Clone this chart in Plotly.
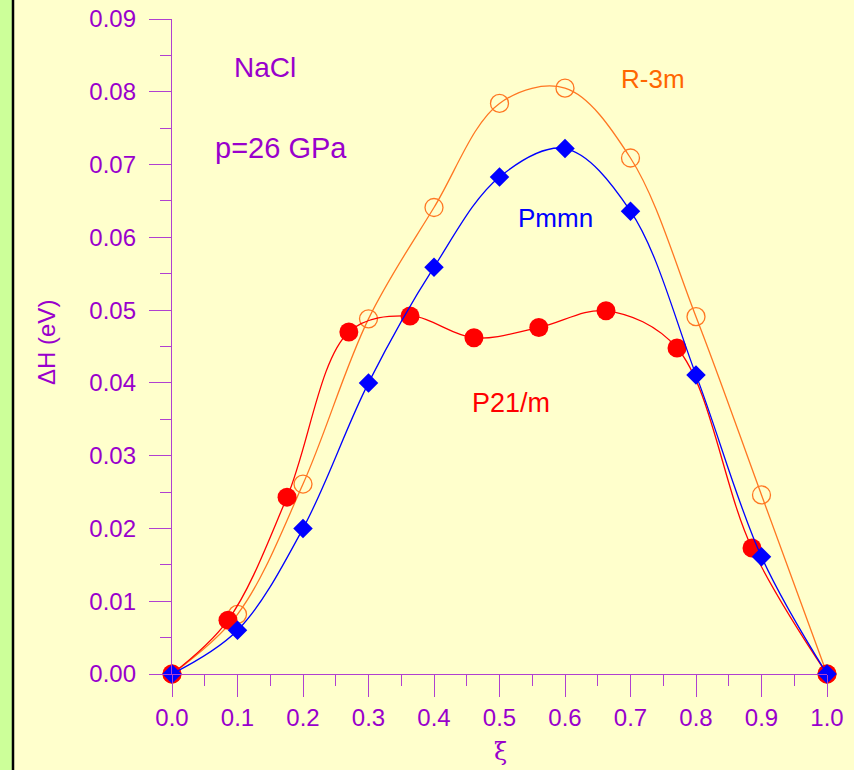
import plotly.graph_objects as go

# ---- data ----
xi_std = [0.0, 0.1, 0.2, 0.3, 0.4, 0.5, 0.6, 0.7, 0.8, 0.9, 1.0]
pmmn = [0.0, 0.0060, 0.0200, 0.0400, 0.0559, 0.0683, 0.0722, 0.0636, 0.0411, 0.0161, 0.0]
r3m = [0.0, 0.0082, 0.0261, 0.0488, 0.0641, 0.0784, 0.0805, 0.0709, 0.0491, 0.0246, 0.0]
xi_p21 = [0.0, 0.0855, 0.1756, 0.270, 0.3634, 0.461, 0.560, 0.6626, 0.771, 0.8855, 1.0]
p21m = [0.0, 0.0074, 0.0243, 0.0470, 0.0492, 0.0462, 0.0476, 0.0499, 0.0448, 0.0173, 0.0]

x_ticks = [0.0, 0.1, 0.2, 0.3, 0.4, 0.5, 0.6, 0.7, 0.8, 0.9, 1.0]
y_ticks = [0.00, 0.01, 0.02, 0.03, 0.04, 0.05, 0.06, 0.07, 0.08, 0.09]

PURPLE = "#9900CC"
AXIS = "#B040D0"
BG = "#FFFFCC"
FONT = "Liberation Sans, Arial, sans-serif"

W, H = 854, 770
ML, MR, MT, MB = 172, 27, 19, 96
PW = W - ML - MR
PH = H - MT - MB


def px2paper_x(px):
    return (px - ML) / PW


def px2paper_y(py):
    return (H - MB - py) / PH


fig = go.Figure()

fig.add_trace(go.Scatter(
    x=xi_std, y=r3m, mode="lines+markers", name="R-3m",
    line=dict(color="#FF7722", width=1.3, shape="spline", smoothing=1.0),
    marker=dict(symbol="circle-open", size=18, color="#FF7722", line=dict(width=1.3)),
    cliponaxis=False,
))
fig.add_trace(go.Scatter(
    x=xi_p21, y=p21m, mode="lines+markers", name="P21/m",
    line=dict(color="#FF0000", width=1.3, shape="spline", smoothing=1.0),
    marker=dict(symbol="circle", size=19, color="#FF0000"),
    cliponaxis=False,
))
fig.add_trace(go.Scatter(
    x=xi_std, y=pmmn, mode="lines+markers", name="Pmmn",
    line=dict(color="#0000FF", width=1.3, shape="spline", smoothing=1.0),
    marker=dict(symbol="diamond", size=15, color="#0000FF"),
    cliponaxis=False,
))

annos = [
    dict(text="NaCl", x=0.142, y=0.0833, color=PURPLE, size=28),
    dict(text="p=26 GPa", x=0.166, y=0.0723, color=PURPLE, size=29),
    dict(text="R-3m", x=0.735, y=0.0817, color="#FF6600", size=26),
    dict(text="Pmmn", x=0.585, y=0.0627, color="#0000FF", size=26),
    dict(text="P21/m", x=0.518, y=0.0372, color="#FF0000", size=27),
]
for a in annos:
    fig.add_annotation(x=a["x"], y=a["y"], text=a["text"], showarrow=False,
                       font=dict(family=FONT, size=a["size"], color=a["color"]),
                       xref="x", yref="y", xanchor="center", yanchor="middle")

# axis titles placed as annotations
fig.add_annotation(x=px2paper_x(46), y=px2paper_y(343), xref="paper", yref="paper",
                   text="ΔH (eV)", textangle=-90, showarrow=False,
                   xanchor="center", yanchor="middle",
                   font=dict(family=FONT, size=24, color=PURPLE))
fig.add_annotation(x=px2paper_x(500), y=px2paper_y(752), xref="paper", yref="paper",
                   text="ξ", showarrow=False, xanchor="center", yanchor="middle",
                   font=dict(family="DejaVu Serif, serif", size=24, color=PURPLE))

# left green strip with black border
fig.add_shape(type="rect", xref="paper", yref="paper",
              x0=px2paper_x(-2), x1=px2paper_x(12), y0=-0.2, y1=1.1,
              fillcolor="#CCFF99", line=dict(width=0), layer="below")
fig.add_shape(type="line", xref="paper", yref="paper",
              x0=px2paper_x(13), x1=px2paper_x(13), y0=-0.2, y1=1.1,
              line=dict(color="black", width=2.5))

axis_common = dict(
    showgrid=False, zeroline=False, showline=True, linecolor=AXIS, linewidth=1.3,
    ticks="outside", ticklen=22, tickwidth=1.3, tickcolor=AXIS,
    tickfont=dict(family=FONT, size=24, color=PURPLE),
    automargin=False,
)

fig.update_layout(
    width=W, height=H,
    margin=dict(l=ML, r=MR, t=MT, b=MB),
    paper_bgcolor=BG, plot_bgcolor=BG,
    showlegend=False,
    xaxis=dict(
        range=[0, 1], tickvals=x_ticks, ticktext=[f"{v:.1f}" for v in x_ticks],
        minor=dict(dtick=0.05, ticks="outside", ticklen=11, tickwidth=1.3, tickcolor=AXIS),
        **axis_common,
    ),
    yaxis=dict(
        range=[0, 0.09], tickvals=y_ticks, ticktext=[f"{v:.2f}" for v in y_ticks],
        minor=dict(dtick=0.005, ticks="outside", ticklen=11, tickwidth=1.3, tickcolor=AXIS),
        ticklabelstandoff=8,
        **axis_common,
    ),
)

fig.write_html("out.html")
